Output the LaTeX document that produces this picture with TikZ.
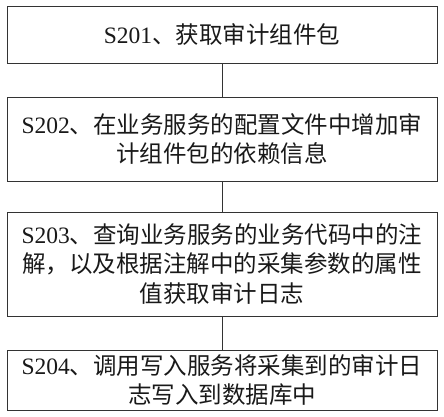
\documentclass[tikz,border=0pt]{standalone}
\usepackage{fontspec}
\setmainfont{Liberation Serif}
\newfontfamily\cjk{Noto Sans CJK SC}
\newfontfamily\lat{Liberation Serif}
\usetikzlibrary{positioning}

\tikzset{
	stepbox/.style={draw=black!80, line width=1pt, minimum width=430pt, inner sep=0pt,
		align=center, font=\fontsize{23.5}{29.5}\selectfont\cjk, text=black!90},
	link/.style={draw=black!80, line width=1pt}
}

\begin{document}
\begin{tikzpicture}[x=1pt, y=-1pt]
	\useasboundingbox (0,0) rectangle (444,416);
	
	\node[stepbox, minimum height=57pt] (S201) at (222,34.5) {{\lat S201}、获取审计组件包};
	\node[stepbox, minimum height=84pt] (S202) at (222,139) {{\lat S202}、在业务服务的配置文件中增加审\\计组件包的依赖信息};
	\node[stepbox, minimum height=104pt] (S203) at (222,264) {{\lat S203}、查询业务服务的业务代码中的注\\解，以及根据注解中的采集参数的属性\\值获取审计日志};
	\node[stepbox, minimum height=60pt] (S204) at (222,380) {{\lat S204}、调用写入服务将采集到的审计日\\志写入到数据库中};
	
	\draw[link] (S201) -- (S202);
	\draw[link] (S202) -- (S203);
	\draw[link] (S203) -- (S204);
\end{tikzpicture}
\end{document}
